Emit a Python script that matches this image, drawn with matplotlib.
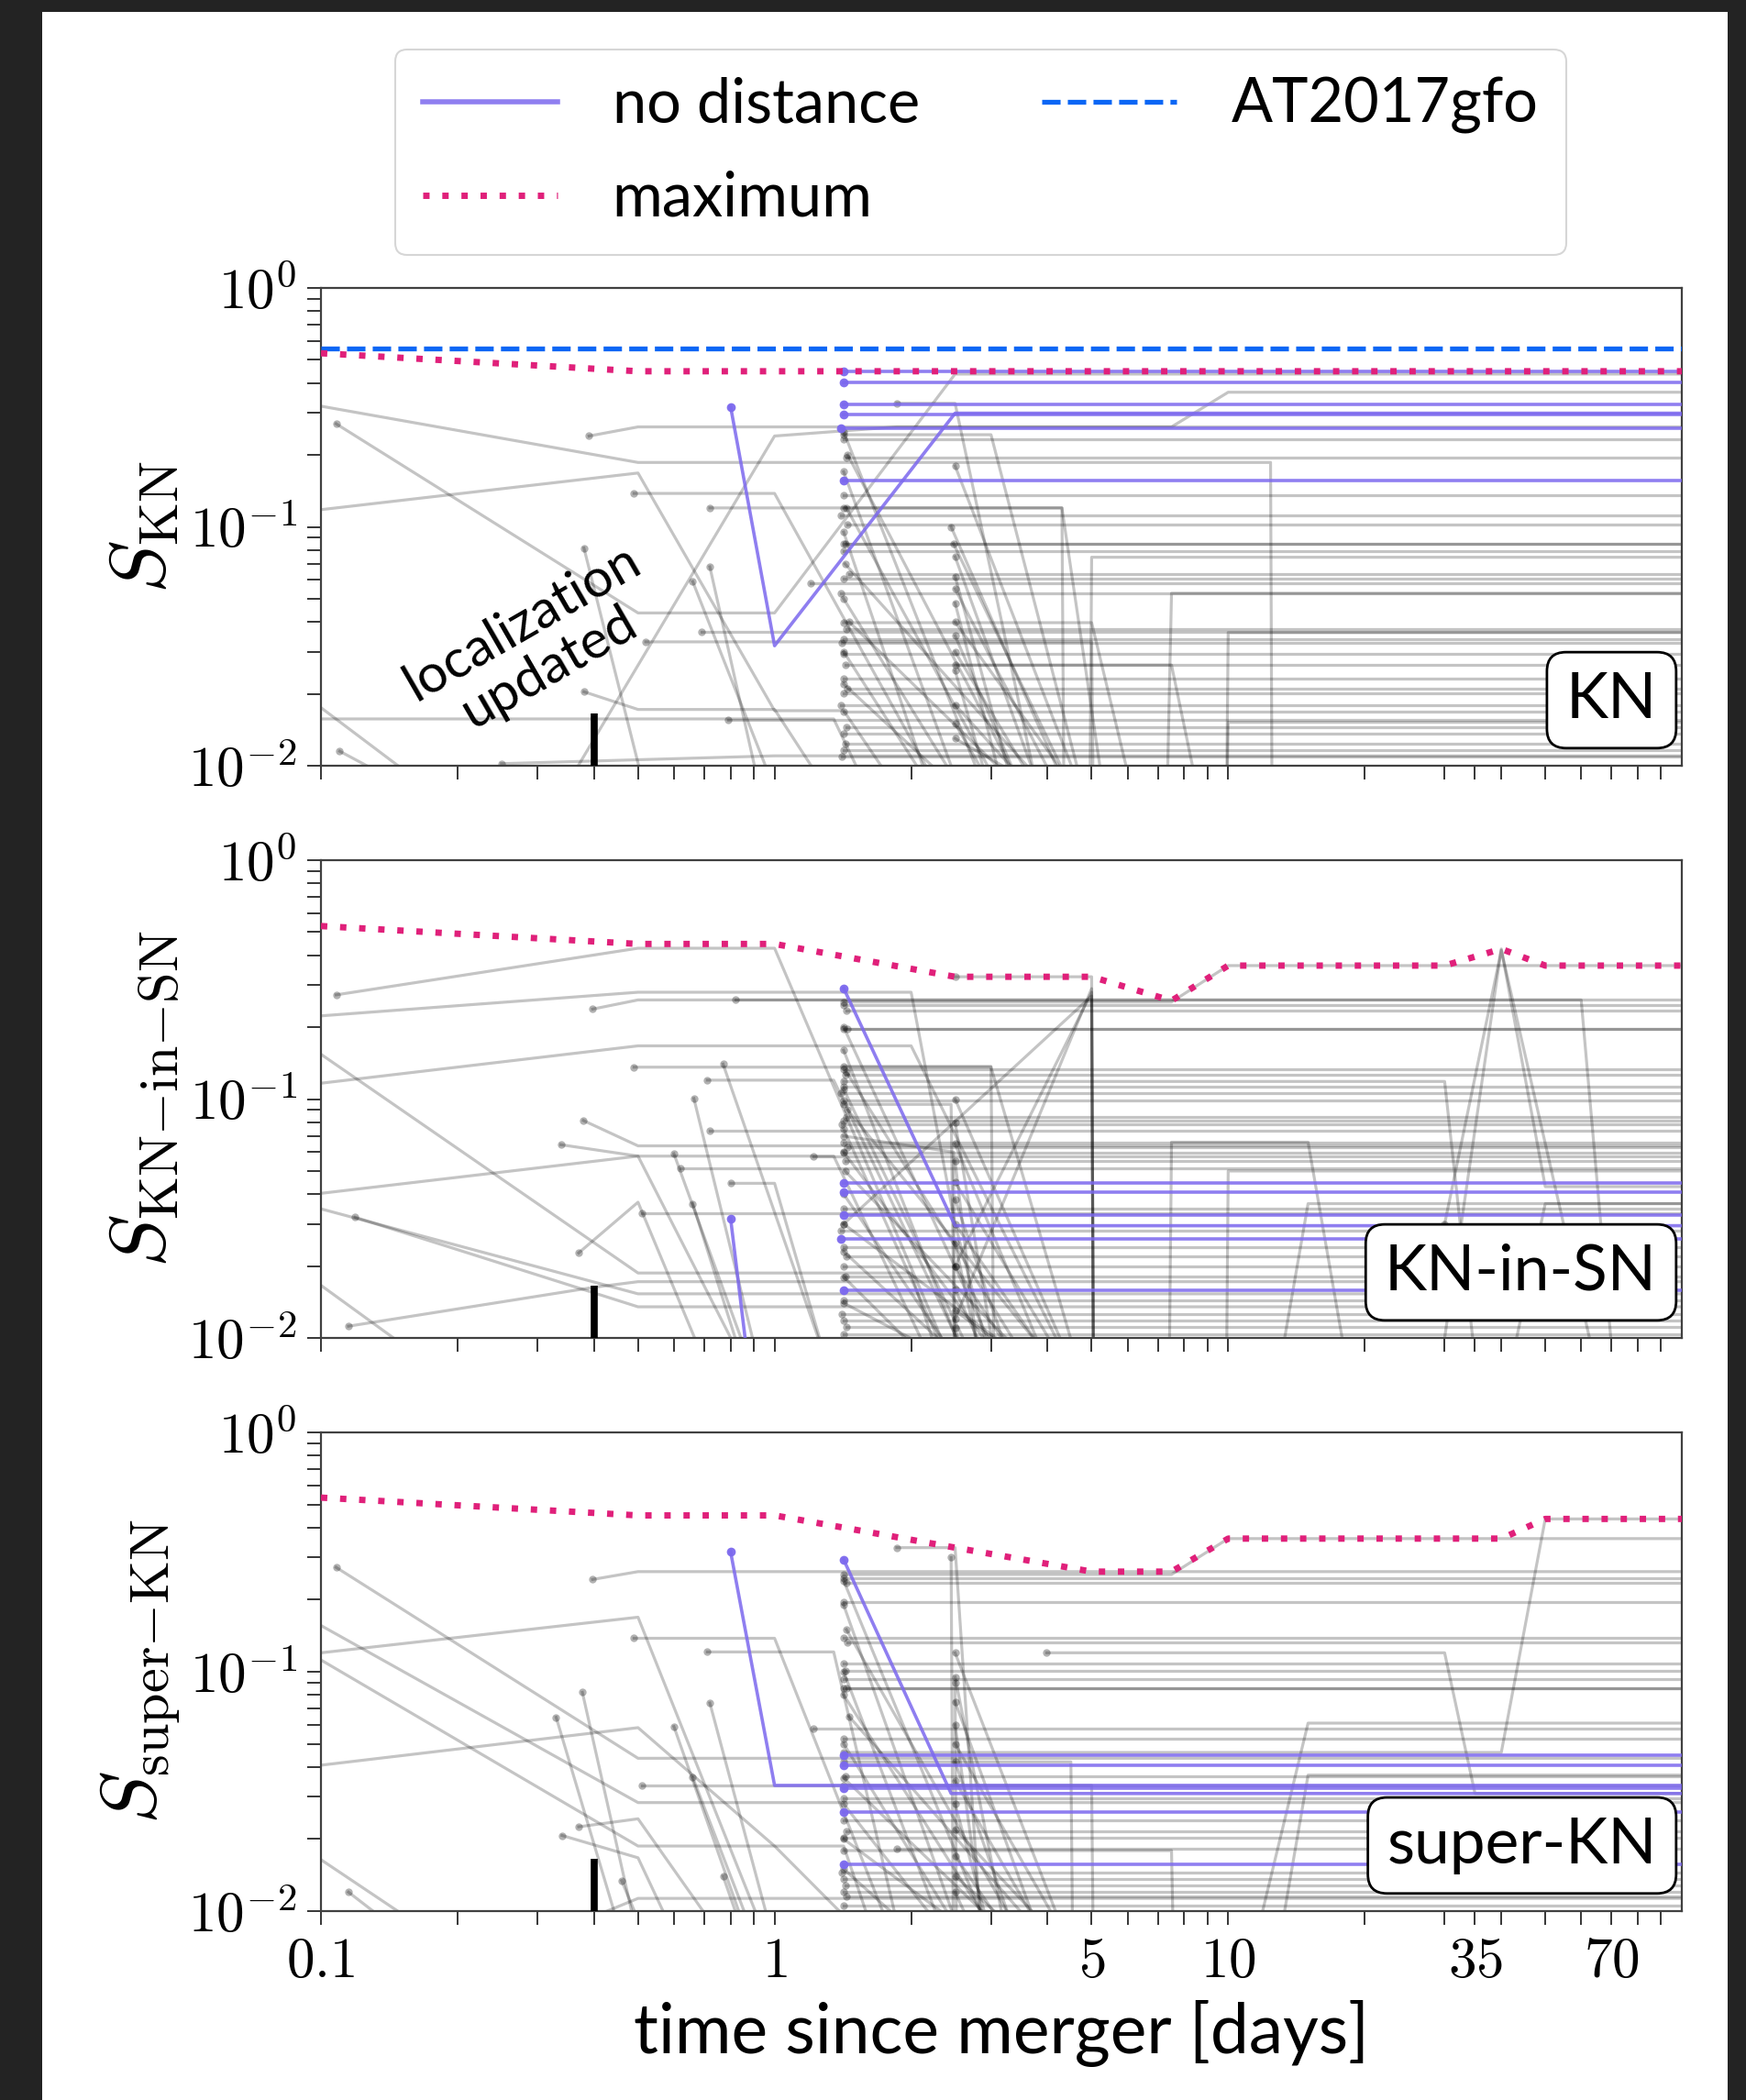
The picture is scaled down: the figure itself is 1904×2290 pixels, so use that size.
import numpy as np
import matplotlib
matplotlib.use('Agg')
import matplotlib.pyplot as plt
from matplotlib.lines import Line2D
from matplotlib.patches import Rectangle
from matplotlib.ticker import FixedLocator, FixedFormatter, NullFormatter, LogLocator

plt.rcParams['mathtext.fontset'] = 'cm'
SANS = 'Lato'

# ---------------- axis data ----------------
x_major = [0.1, 1, 5, 10, 35, 70]
x_major_labels = ['$0.1$', '$1$', '$5$', '$10$', '$35$', '$70$']
x_minor = [0.2, 0.3, 0.4, 0.5, 0.6, 0.7, 0.8, 0.9, 2, 3, 4, 6, 7, 8, 9,
           20, 30, 40, 50, 60, 80, 90]
y_major = [1e-2, 1e-1, 1]
y_major_labels = ['$10^{-2}$', '$10^{-1}$', '$10^{0}$']

panel_names = ['KN', 'KN-in-SN', 'super-KN']
ylabels = [r'$S_{\rm KN}$', r'$S_{\rm KN{-}in{-}SN}$', r'$S_{\rm super{-}KN}$']

at2017gfo_score = 0.558
loc_update_t = 0.4
loc_update_top = 0.0165

# ---------------- panel 1: KN ----------------
kn_max_t = [0.1, 0.5, 100]
kn_max_s = [0.533, 0.448, 0.448]
kn_purple = [
    [(0.8, 0.318), (1.0, 0.0318), (2.5, 0.299), (100, 0.299)],
    [(1.42, 0.448), (100, 0.448)],
    [(1.42, 0.403), (100, 0.403)],
    [(1.42, 0.326), (100, 0.326)],
    [(1.42, 0.294), (100, 0.294)],
    [(1.40, 0.259), (100, 0.259)],
    [(1.42, 0.156), (100, 0.156)],
]
kn_paths = [
    [(0.1, 0.32), (0.5, 0.186), (12.4, 0.186), (12.5, 0.005)],
    [(0.108, 0.27), (0.5, 0.0436), (1.0, 0.0436), (2.5, 0.436), (100, 0.436)],
    [(0.1, 0.118), (0.5, 0.168), (1.0, 0.017), (1.42, 0.017), (2.2, 0.005)],
    [(0.39, 0.24), (0.5, 0.262), (7.5, 0.262), (10, 0.366), (100, 0.366)],
    [(0.49, 0.138), (1.0, 0.138), (2.5, 0.006)],
    [(0.72, 0.12), (4.3, 0.12), (5.5, 0.005)],
    [(0.38, 0.0815), (0.55, 0.005)],
    [(0.66, 0.059), (1.0, 0.008)],
    [(0.72, 0.068), (0.98, 0.005)],
    [(0.52, 0.033), (5.0, 0.033), (5.05, 0.005)],
    [(0.69, 0.0363), (100, 0.0363)],
    [(0.79, 0.0155), (100, 0.0155)],
    [(1.2, 0.058), (100, 0.058)],
    [(0.33, 0.007), (1.0, 0.24), (1.86, 0.262), (100, 0.262)],
    [(0.1, 0.0175), (0.15, 0.0098)],
    [(0.1, 0.0157), (1.35, 0.0157), (1.6, 0.008)],
    [(0.11, 0.0115), (0.14, 0.009)],
    [(0.38, 0.0204), (0.5, 0.0172), (1.0, 0.0172), (1.3, 0.008)],
    [(0.25, 0.0102), (1.0, 0.011), (100, 0.011)],
    [(1.86, 0.329), (2.5, 0.329), (4.0, 0.005)],
    [(1.42, 0.243), (3.0, 0.243), (5.1, 0.005)],
    [(4.95, 0.005), (5.0, 0.0746), (100, 0.0746)],
    [(7.3, 0.005), (7.5, 0.0527), (100, 0.0527)],
    [(9.9, 0.005), (10, 0.0361), (100, 0.0361)],
    [(9.9, 0.005), (10, 0.0152), (100, 0.0152)],
    [(1.42, 0.12), (4.3, 0.12), (4.35, 0.005)],
    [(1.42, 0.0397), (5.0, 0.0397), (6.5, 0.005)],
    [(2.5, 0.0264), (7.5, 0.0264), (9.0, 0.005)],
]
kn_flat = [(1.42, 0.232), (1.44, 0.195), (1.42, 0.136), (1.40, 0.112), (1.45, 0.102),
           (1.42, 0.0846), (1.43, 0.0846), (1.42, 0.0794), (1.46, 0.0637), (1.42, 0.0608),
           (1.40, 0.0527), (1.44, 0.0373), (1.42, 0.0339), (1.41, 0.0328), (1.42, 0.0294),
           (1.43, 0.0264), (1.42, 0.0232), (1.45, 0.0211), (1.42, 0.0201), (1.40, 0.018),
           (1.42, 0.0169), (1.44, 0.0145), (1.42, 0.0136), (1.43, 0.0124), (1.42, 0.0116),
           (1.41, 0.0109)]
kn_drops = [(1.42, 0.25, 3.2), (1.45, 0.2, 4.0), (1.42, 0.17, 2.8), (1.44, 0.12, 3.6),
            (1.42, 0.095, 2.4), (1.43, 0.07, 5.0), (1.42, 0.05, 3.0), (1.46, 0.04, 4.5),
            (1.42, 0.03, 2.6), (1.42, 0.022, 3.3), (2.5, 0.18, 5.2), (2.5, 0.075, 4.2),
            (2.5, 0.062, 3.6), (2.5, 0.055, 4.8), (2.5, 0.048, 3.4), (2.5, 0.04, 5.5),
            (2.5, 0.035, 3.9), (2.5, 0.03, 4.4), (2.5, 0.025, 3.2), (2.5, 0.018, 4.6),
            (2.5, 0.015, 3.5), (2.5, 0.013, 6.0), (2.45, 0.1, 4.9), (2.48, 0.085, 5.1)]

# ---------------- panel 2: KN-in-SN ----------------
kns_max_t = [0.1, 0.5, 1.0, 2.5, 5, 7.5, 10, 30, 40, 50, 100]
kns_max_s = [0.53, 0.446, 0.446, 0.325, 0.325, 0.258, 0.362, 0.362, 0.425, 0.362, 0.362]
kns_purple = [
    [(1.42, 0.291), (2.5, 0.0295), (100, 0.0295)],
    [(0.8, 0.0316), (0.9, 0.005)],
    [(1.42, 0.0444), (100, 0.0444)],
    [(1.42, 0.0409), (100, 0.0409)],
    [(1.42, 0.0326), (100, 0.0326)],
    [(1.40, 0.026), (100, 0.026)],
    [(1.42, 0.0159), (100, 0.0159)],
]
kns_paths = [
    [(0.108, 0.273), (0.5, 0.428), (1.0, 0.428), (2.45, 0.008)],
    [(0.1, 0.223), (0.5, 0.28), (2.0, 0.28), (2.5, 0.03), (3.2, 0.005)],
    [(0.397, 0.238), (0.5, 0.26), (60, 0.26), (72, 0.005)],
    [(0.82, 0.26), (100, 0.26)],
    [(0.1, 0.1165), (0.5, 0.167), (2.0, 0.167), (5.0, 0.005)],
    [(0.1, 0.154), (0.5, 0.0187), (2.0, 0.0187), (2.5, 0.005)],
    [(0.1, 0.0403), (0.5, 0.0577), (1.35, 0.0577), (2.5, 0.005)],
    [(0.1, 0.0347), (0.5, 0.0153), (100, 0.0153)],
    [(0.119, 0.032), (0.5, 0.0135), (100, 0.0135)],
    [(0.1, 0.0166), (0.15, 0.0095)],
    [(0.115, 0.0112), (0.4, 0.0163), (0.5, 0.0172), (100, 0.0172)],
    [(0.379, 0.0813), (0.5, 0.0637), (100, 0.0637)],
    [(0.338, 0.0644), (0.5, 0.0577), (0.85, 0.008)],
    [(0.49, 0.136), (3.0, 0.136), (5.0, 0.005)],
    [(0.77, 0.14), (1.3, 0.008)],
    [(0.711, 0.12), (1.35, 0.12), (3.0, 0.005)],
    [(0.664, 0.1005), (0.92, 0.008)],
    [(0.72, 0.0738), (100, 0.0738)],
    [(0.6, 0.059), (0.88, 0.008)],
    [(0.62, 0.0512), (100, 0.0512)],
    [(0.8, 0.0444), (1.0, 0.0444), (1.3, 0.008)],
    [(0.66, 0.0365), (0.85, 0.008)],
    [(0.51, 0.0334), (100, 0.0334)],
    [(1.22, 0.0577), (100, 0.0577)],
    [(0.37, 0.0227), (0.5, 0.037), (0.7, 0.008)],
    [(2.5, 0.325), (5.0, 0.325), (5.05, 0.005)],
    [(2.5, 0.012), (5.0, 0.29), (5.05, 0.005)],
    [(2.5, 0.02), (5.0, 0.28), (5.05, 0.005)],
    [(1.42, 0.03), (5.0, 0.27), (5.05, 0.005)],
    [(1.42, 0.255), (7.5, 0.255), (10, 0.362), (100, 0.362)],
    [(25, 0.005), (30, 0.01), (40, 0.425), (50, 0.043), (100, 0.043)],
    [(30, 0.03), (40, 0.42), (68, 0.005)],
    [(7.4, 0.005), (7.5, 0.066), (15, 0.066), (19, 0.005)],
    [(9.9, 0.005), (10, 0.05), (100, 0.05)],
    [(12.5, 0.005), (15, 0.0365), (100, 0.0365)],
    [(1.42, 0.1185), (30, 0.1185), (36, 0.005)],
    [(40, 0.005), (50, 0.0365), (100, 0.0365)],
    [(1.42, 0.137), (3.0, 0.137), (3.05, 0.005)],
    [(1.42, 0.095), (2.45, 0.095), (2.5, 0.005)],
    [(1.42, 0.07), (2.48, 0.06), (2.5, 0.005)],
]
kns_flat = [(1.42, 0.247), (1.44, 0.235), (1.42, 0.197), (1.45, 0.197), (1.42, 0.133),
            (1.43, 0.126), (1.42, 0.113), (1.40, 0.1057), (1.42, 0.099), (1.44, 0.084),
            (1.42, 0.0813), (1.41, 0.0787), (1.42, 0.0658), (1.45, 0.0626), (1.42, 0.0596),
            (1.43, 0.055), (1.42, 0.0347), (1.40, 0.0281), (1.42, 0.0239), (1.44, 0.022),
            (1.42, 0.0199), (1.43, 0.0181), (1.42, 0.0144), (1.41, 0.0126), (1.42, 0.0118),
            (1.44, 0.0111), (1.42, 0.0104)]
kns_drops = [(1.42, 0.2, 3.5), (1.42, 0.16, 2.9), (1.44, 0.13, 4.2), (1.42, 0.11, 3.1),
             (1.45, 0.09, 5.0), (1.42, 0.075, 2.7), (1.42, 0.06, 3.8), (1.43, 0.05, 4.6),
             (1.42, 0.04, 3.0), (1.42, 0.03, 5.0), (1.42, 0.023, 3.4), (1.42, 0.018, 2.8),
             (1.42, 0.014, 4.0), (2.5, 0.1, 5.0), (2.5, 0.08, 3.2), (2.5, 0.065, 4.4),
             (2.5, 0.055, 2.9), (2.5, 0.045, 5.0), (2.5, 0.038, 3.6), (2.5, 0.03, 4.8),
             (2.5, 0.025, 3.0), (2.5, 0.02, 4.0), (2.5, 0.016, 3.3), (2.5, 0.013, 5.0),
             (2.5, 0.011, 2.8)]

# ---------------- panel 3: super-KN ----------------
sk_max_t = [0.1, 0.5, 1.0, 1.42, 2.5, 5, 7.5, 10, 40, 50, 100]
sk_max_s = [0.534, 0.45, 0.45, 0.40, 0.33, 0.262, 0.262, 0.36, 0.36, 0.435, 0.435]
sk_purple = [
    [(0.8, 0.317), (1.0, 0.0335), (100, 0.0335)],
    [(1.42, 0.294), (2.45, 0.031), (100, 0.031)],
    [(1.42, 0.045), (100, 0.045)],
    [(1.42, 0.0408), (100, 0.0408)],
    [(1.42, 0.0327), (100, 0.0327)],
    [(1.42, 0.026), (100, 0.026)],
    [(1.42, 0.0157), (100, 0.0157)],
]
sk_paths = [
    [(0.108, 0.273), (0.5, 0.0435), (100, 0.0435)],
    [(0.1, 0.156), (0.5, 0.0284), (100, 0.0284)],
    [(0.1, 0.112), (0.5, 0.0187), (1.0, 0.0187), (2.0, 0.005)],
    [(0.1, 0.12), (0.5, 0.169), (0.95, 0.008)],
    [(0.1, 0.0407), (0.5, 0.0584), (1.0, 0.0187), (1.42, 0.0187), (1.8, 0.005)],
    [(0.1, 0.0164), (0.15, 0.0098)],
    [(0.115, 0.012), (0.14, 0.009)],
    [(0.397, 0.243), (0.5, 0.262), (100, 0.262)],
    [(0.49, 0.138), (1.0, 0.138), (2.0, 0.005)],
    [(0.711, 0.121), (1.35, 0.121), (2.0, 0.005)],
    [(0.377, 0.082), (0.49, 0.009)],
    [(0.33, 0.0645), (0.45, 0.009)],
    [(0.72, 0.074), (0.97, 0.009)],
    [(0.6, 0.059), (0.85, 0.009)],
    [(0.66, 0.0362), (0.95, 0.006)],
    [(0.51, 0.0334), (100, 0.0334)],
    [(0.34, 0.0207), (0.5, 0.0167), (0.6, 0.008)],
    [(0.37, 0.0225), (0.5, 0.0243), (0.9, 0.005)],
    [(0.46, 0.0134), (0.55, 0.006)],
    [(0.77, 0.014), (0.9, 0.006)],
    [(1.22, 0.058), (100, 0.058)],
    [(1.86, 0.0183), (100, 0.0183)],
    [(0.4, 0.0095), (0.5, 0.0113), (100, 0.0113)],
    [(1.86, 0.33), (2.5, 0.33), (2.9, 0.005)],
    [(2.45, 0.30), (2.48, 0.005)],
    [(1.42, 0.255), (7.5, 0.255), (10, 0.36), (100, 0.36)],
    [(1.42, 0.046), (40, 0.046), (50, 0.435), (100, 0.435)],
    [(3.98, 0.12), (30, 0.12), (35, 0.031), (100, 0.031)],
    [(10.9, 0.005), (15, 0.061), (100, 0.061)],
    [(12.5, 0.005), (15, 0.037), (100, 0.037)],
    [(1.42, 0.0335), (5.0, 0.0335), (5.05, 0.005)],
    [(1.42, 0.042), (4.5, 0.042), (4.55, 0.005)],
    [(1.42, 0.0179), (7.5, 0.0179), (7.6, 0.005)],
    [(2.5, 0.09), (2.52, 0.005)],
]
sk_flat = [(1.42, 0.246), (1.44, 0.236), (1.42, 0.195), (1.42, 0.139), (1.45, 0.133),
           (1.42, 0.108), (1.43, 0.101), (1.42, 0.093), (1.42, 0.0854), (1.44, 0.0854),
           (1.42, 0.0525), (1.43, 0.0367), (1.42, 0.0297), (1.42, 0.024), (1.44, 0.0216),
           (1.42, 0.0203), (1.41, 0.0145), (1.42, 0.0136), (1.43, 0.0128), (1.42, 0.012),
           (1.44, 0.0115), (1.42, 0.0105)]
sk_drops = [(1.42, 0.24, 3.3), (1.42, 0.19, 2.8), (1.44, 0.15, 4.0), (1.42, 0.1, 2.6),
            (1.42, 0.08, 3.6), (1.46, 0.065, 4.8), (1.42, 0.05, 3.0), (1.42, 0.036, 4.2),
            (1.42, 0.028, 2.9), (1.42, 0.02, 3.8), (1.42, 0.015, 2.7), (2.5, 0.12, 4.8),
            (2.5, 0.095, 3.4), (2.5, 0.075, 4.2), (2.5, 0.06, 3.0), (2.5, 0.05, 5.0),
            (2.5, 0.042, 3.7), (2.5, 0.035, 4.5), (2.5, 0.028, 3.2), (2.5, 0.022, 5.2),
            (2.5, 0.017, 3.9), (2.5, 0.014, 4.6), (2.5, 0.012, 3.1)]

panels = [
    dict(mx_t=kn_max_t, mx_s=kn_max_s, purple=kn_purple, paths=kn_paths, flat=kn_flat, drops=kn_drops, gfo=True),
    dict(mx_t=kns_max_t, mx_s=kns_max_s, purple=kns_purple, paths=kns_paths, flat=kns_flat, drops=kns_drops, gfo=False),
    dict(mx_t=sk_max_t, mx_s=sk_max_s, purple=sk_purple, paths=sk_paths, flat=sk_flat, drops=sk_drops, gfo=False),
]

# ---------------- styles ----------------
PURPLE = '#7b68ee'
PINK = '#e0207a'
BLUE = '#0a66f5'
GRAY_LW = 2.3
BELOW = 0.005
T_END = 100

fig = plt.figure(figsize=(19.04, 22.90), dpi=100, facecolor='#232323')
fig.patches.append(Rectangle((46 / 1904, 0), (1884 - 46) / 1904, 1 - 13 / 2290,
                             transform=fig.transFigure, facecolor='white',
                             edgecolor='none', zorder=-10))

left = 350 / 1904
width = 1484 / 1904
tops = [314, 938, 1562]
bottoms = [835, 1459, 2084]


def draw_path(ax, pts, color, alpha, lw, ms, dot_alpha, z):
    t = [p[0] for p in pts]
    s = [p[1] for p in pts]
    ax.plot(t, s, color=color, alpha=alpha, lw=lw, zorder=z, solid_joinstyle='round')
    if t[0] > 0.1 and s[0] >= 0.01:
        ax.plot([t[0]], [s[0]], 'o', color=color, alpha=dot_alpha, ms=ms, mec='none', zorder=z)


axes = []
for i, p in enumerate(panels):
    ax = fig.add_axes([left, 1 - bottoms[i] / 2290, width, (bottoms[i] - tops[i]) / 2290])
    axes.append(ax)
    ax.set_xscale('log')
    ax.set_yscale('log')

    for pts in p['paths']:
        draw_path(ax, pts, 'k', 0.23, GRAY_LW, 6, 0.3, 2)
    for (t0, s0) in p['flat']:
        draw_path(ax, [(t0, s0), (T_END, s0)], 'k', 0.23, GRAY_LW, 6, 0.3, 2)
    for (t0, s0, t1) in p['drops']:
        draw_path(ax, [(t0, s0), (t1, BELOW)], 'k', 0.23, GRAY_LW, 6, 0.3, 2)
    for pts in p['purple']:
        draw_path(ax, pts, PURPLE, 0.85, 2.6, 7, 0.95, 3)

    if p['gfo']:
        ax.axhline(at2017gfo_score, color=BLUE, lw=3.8, ls=(0, (3.8, 1.5)), zorder=5)
    ax.plot(p['mx_t'], p['mx_s'], color=PINK, lw=5, ls=(0, (1, 2.0)), zorder=6)

    ax.plot([loc_update_t, loc_update_t], [0.01, loc_update_top], color='k', lw=5.5,
            solid_capstyle='butt', zorder=7)

    ax.set_xlim(0.1, 100)
    ax.set_ylim(0.01, 1)
    ax.xaxis.set_major_locator(FixedLocator(x_major))
    ax.xaxis.set_minor_locator(FixedLocator(x_minor))
    ax.xaxis.set_minor_formatter(NullFormatter())
    if i == 2:
        ax.xaxis.set_major_formatter(FixedFormatter(x_major_labels))
    else:
        ax.xaxis.set_major_formatter(NullFormatter())
    ax.yaxis.set_major_locator(FixedLocator(y_major))
    ax.yaxis.set_major_formatter(FixedFormatter(y_major_labels))
    ax.yaxis.set_minor_locator(LogLocator(base=10, subs=np.arange(2, 10)))
    ax.yaxis.set_minor_formatter(NullFormatter())
    ax.tick_params(which='both', direction='out', length=11, width=1.1, top=False,
                   right=False, labelsize=44, color='k')
    ax.tick_params(axis='both', which='both', pad=8)
    for sp in ax.spines.values():
        sp.set_color('0.25')
        sp.set_linewidth(1.6)

    ax.set_ylabel(ylabels[i], fontsize=62)
    ax.yaxis.set_label_coords(-0.102, 0.5)

    ax.text(0.9818, 0.0768, panel_names[i], transform=ax.transAxes, ha='right', va='bottom',
            fontsize=50, family=SANS, zorder=10,
            bbox=dict(boxstyle='round,pad=0.3', fc='white', ec='black', lw=2.0))

axes[0].text(0.158, 0.252, 'localization\nupdated', transform=axes[0].transAxes,
             rotation=30, ha='center', va='center', multialignment='center',
             fontsize=42, family=SANS, linespacing=1.1, zorder=8)

axes[2].set_xlabel('time since merger [days]', fontsize=54, family=SANS)
axes[2].xaxis.set_label_coords(0.5, -0.185)

handles = [Line2D([], [], color=PURPLE, lw=4, alpha=0.85),
           Line2D([], [], color=PINK, lw=5, ls=(0, (1, 2.0))),
           Line2D([], [], color=BLUE, lw=3.8, ls=(0, (3.8, 1.5)))]
labels = ['no distance', 'maximum', 'AT2017gfo']
leg = fig.legend(handles, labels, loc='upper left', bbox_to_anchor=(431 / 1904, 1 - 54 / 2290),
                 ncol=2, prop={'family': SANS, 'size': 48}, handlelength=2.2,
                 handletextpad=0.9, columnspacing=2.0, labelspacing=0.6, borderpad=0.45,
                 borderaxespad=0.0, frameon=True, fancybox=True, edgecolor='0.8')
leg.get_frame().set_linewidth(1.5)

fig.savefig('out.png', dpi=100, facecolor=fig.get_facecolor())
